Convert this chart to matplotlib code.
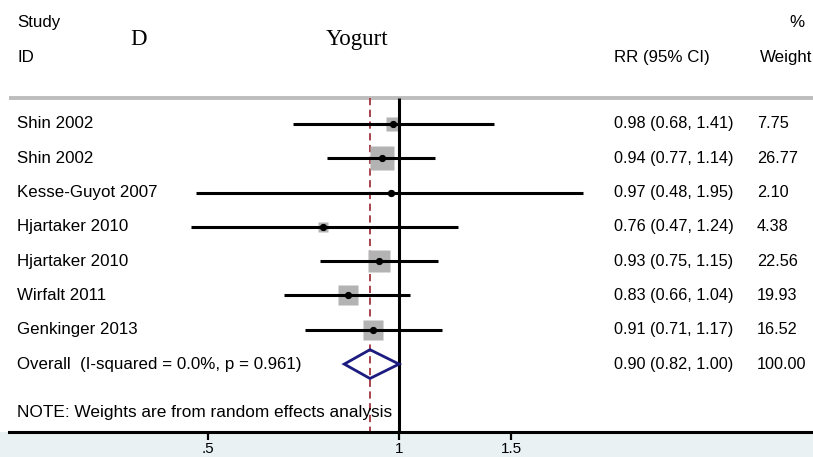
import numpy as np
import matplotlib
matplotlib.use("Agg")
import matplotlib.pyplot as plt
import matplotlib.transforms as mtransforms
from matplotlib.patches import Polygon, Rectangle

# ---- data ----
studies = ["Shin 2002", "Shin 2002", "Kesse-Guyot 2007", "Hjartaker 2010",
           "Hjartaker 2010", "Wirfalt 2011", "Genkinger 2013"]
rr = [0.98, 0.94, 0.97, 0.76, 0.93, 0.83, 0.91]
lo = [0.68, 0.77, 0.48, 0.47, 0.75, 0.66, 0.71]
hi = [1.41, 1.14, 1.95, 1.24, 1.15, 1.04, 1.17]
weights = [7.75, 26.77, 2.10, 4.38, 22.56, 19.93, 16.52]
overall_rr, overall_lo, overall_hi = 0.90, 0.82, 1.00
overall_weight = 100.00
overall_label = "Overall  (I-squared = 0.0%, p = 0.961)"
note = "NOTE: Weights are from random effects analysis"
tick_vals = [0.5, 1, 1.5]
tick_labels = [".5", "1", "1.5"]

W, H = 813, 457
fig = plt.figure(figsize=(W / 100, H / 100), dpi=100)
fig.patch.set_facecolor("#e9f1f3")
fig.patches.append(Rectangle((0, 25 / H), 1, 1 - 25 / H, transform=fig.transFigure,
                             facecolor="white", edgecolor="none", zorder=-10))

ax = fig.add_axes([9 / W, 25 / H, 1 - 9 / W, 1 - 25 / H])
ax.set_facecolor("white")
ax.set_xscale("log")
ax.set_xlim(0.2434, 4.48)
ax.set_ylim(8.98, -3.615)
for s in ["top", "left", "right"]:
    ax.spines[s].set_visible(False)
ax.spines["bottom"].set_linewidth(2.2)
ax.set_yticks([])
ax.xaxis.set_minor_locator(matplotlib.ticker.NullLocator())
ax.set_xticks(tick_vals)
ax.set_xticklabels(tick_labels, family=["Liberation Sans"], fontsize=11)
ax.tick_params(axis="x", length=5.5, width=1.6, pad=1.5)

sans = ["Liberation Sans", "DejaVu Sans"]
fs = 12.2
tr = mtransforms.blended_transform_factory(fig.transFigure, ax.transData)

# header
ax.text(17 / W, -2.97, "Study", transform=tr, family=sans, fontsize=fs, va="center", ha="left")
ax.text(17 / W, -1.95, "ID", transform=tr, family=sans, fontsize=fs, va="center", ha="left")
ax.text(139 / W, -2.45, "D", transform=tr, family=["Liberation Serif"], fontsize=16.5, va="center", ha="center")
ax.text(357 / W, -2.45, "Yogurt", transform=tr, family=["Liberation Serif"], fontsize=16.5, va="center", ha="center")
ax.text(614 / W, -1.95, "RR (95% CI)", transform=tr, family=sans, fontsize=fs, va="center", ha="left")
ax.text(789 / W, -2.97, "%", transform=tr, family=sans, fontsize=fs, va="center", ha="left")
ax.text(760 / W, -1.95, "Weight", transform=tr, family=sans, fontsize=fs, va="center", ha="left")

ax.axhline(-0.76, xmin=0, xmax=1, color="#bdbdbd", lw=2.8, zorder=1)

# reference lines
ax.vlines(1, -0.76, 8.98, color="black", lw=2.2, zorder=3)
ax.vlines(overall_rr, -0.76, 8.98, color="#a3343f", lw=1.3, linestyles=(0, (4, 2.5)), zorder=2)

for i, (name, r, l, h, w) in enumerate(zip(studies, rr, lo, hi, weights)):
    side = 4.7 * np.sqrt(w) * 0.72
    ax.plot([r], [i], marker="s", ms=side, color="#b3b3b3", mec="none", zorder=2)
    ax.plot([l, h], [i, i], color="black", lw=2.2, zorder=4, solid_capstyle="butt")
    ax.plot([r], [i], marker="o", ms=4.2, color="black", zorder=5)
    ax.text(17 / W, i, name, transform=tr, family=sans, fontsize=fs, va="center", ha="left")
    ax.text(614 / W, i, f"{r:.2f} ({l:.2f}, {h:.2f})", transform=tr, family=sans, fontsize=11.7,
            va="center", ha="left")
    ax.text(757 / W, i, f"{w:.2f}", transform=tr, family=sans, fontsize=11.7, va="center", ha="left")

yo = len(studies)
hd = 0.42
diamond = Polygon([(overall_lo, yo), (overall_rr, yo - hd), (overall_hi, yo), (overall_rr, yo + hd)],
                  closed=True, facecolor="none", edgecolor="#1b1b80", lw=2.0, zorder=6)
ax.add_patch(diamond)
ax.text(17 / W, yo, overall_label, transform=tr, family=sans, fontsize=fs, va="center", ha="left")
ax.text(614 / W, yo, f"{overall_rr:.2f} ({overall_lo:.2f}, {overall_hi:.2f})", transform=tr,
        family=sans, fontsize=11.7, va="center", ha="left")
ax.text(757 / W, yo, f"{overall_weight:.2f}", transform=tr, family=sans, fontsize=11.7,
        va="center", ha="left")

ax.text(17 / W, 8.4, note, transform=tr, family=sans, fontsize=12.4, va="center", ha="left")

fig.savefig("out.png", dpi=100)
